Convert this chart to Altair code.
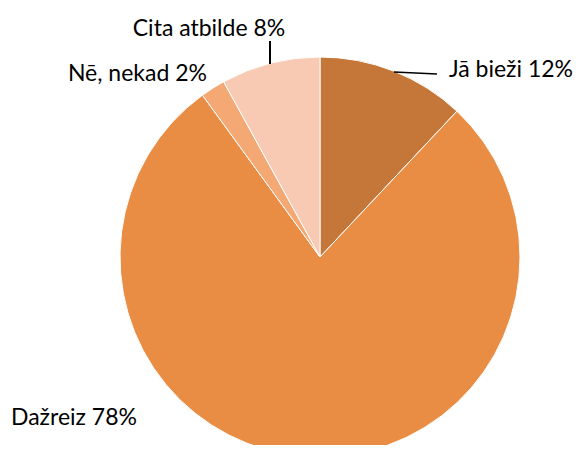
import altair as alt
import pandas as pd

categories = ["Jā bieži", "Dažreiz", "Nē, nekad", "Cita atbilde"]
values = [12, 78, 2, 8]
colors = ["#C47738", "#E98D44", "#F4A974", "#F8CAB3"]

df = pd.DataFrame({
    "cat": categories,
    "val": values,
    "order": list(range(len(categories))),
})
df["label"] = [f"{c} {v}%" for c, v in zip(categories, values)]

CX, CY, R = 312, 249, 200
FONT = "Lato"
FS = 23

pie = alt.Chart(df).mark_arc(outerRadius=R, stroke="white", strokeWidth=1).encode(
    theta=alt.Theta("val:Q", stack=True),
    order=alt.Order("order:Q"),
    color=alt.Color("cat:N", scale=alt.Scale(domain=categories, range=colors), legend=None),
    x=alt.value(CX),
    y=alt.value(CY),
)

def label(cat, x, y, align):
    return alt.Chart(df).transform_filter(alt.datum.cat == cat).mark_text(
        font=FONT, fontSize=FS, color="black", align=align, baseline="alphabetic"
    ).encode(text="label:N", x=alt.value(x), y=alt.value(y))

lab_ja = label("Jā bieži", 565, 69, "right")
lab_daz = label("Dažreiz", 3, 417, "left")
lab_ne = label("Nē, nekad", 199, 73, "right")
lab_cita = label("Cita atbilde", 201, 28, "center")

rule_cita = alt.Chart(df).transform_filter(alt.datum.cat == "Cita atbilde").mark_rule(
    color="black", strokeWidth=2
).encode(x=alt.value(262), y=alt.value(33), y2=alt.value(56))

rule_ja = alt.Chart(df).transform_filter(alt.datum.cat == "Jā bieži").mark_rule(
    color="black", strokeWidth=1.5
).encode(x=alt.value(386), x2=alt.value(429), y=alt.value(64), y2=alt.value(66))

chart = alt.layer(pie, rule_cita, rule_ja, lab_ja, lab_daz, lab_ne, lab_cita).properties(
    width=567, height=437, autosize=alt.AutoSizeParams(type="none"), padding=0
).configure_view(strokeWidth=0)

chart.save("out.html", embed_options={"renderer": "svg", "actions": False})
